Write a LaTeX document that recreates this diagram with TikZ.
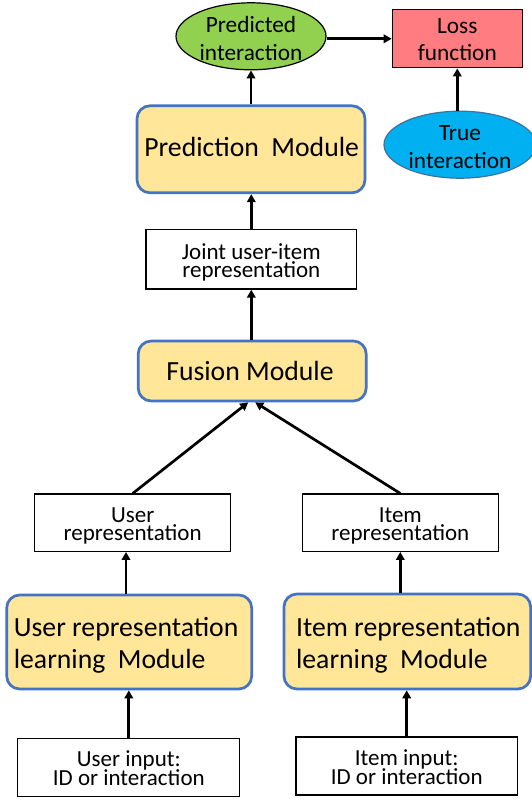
\documentclass[tikz,border=0pt]{standalone}
\usepackage{fontspec}
\setmainfont{Carlito}
\usetikzlibrary{shapes.geometric,arrows.meta}
\definecolor{modfill}{HTML}{FFE699}
\definecolor{modline}{HTML}{4472C4}
\definecolor{predfill}{HTML}{92D050}
\definecolor{lossfill}{HTML}{FF7C80}
\definecolor{truefill}{HTML}{00B0F0}
\definecolor{trueline}{HTML}{41719C}
\begin{document}
\begin{tikzpicture}[x=1pt,y=-1pt,
  module/.style={draw=modline, fill=modfill, line width=2.7pt, rounded corners=13pt, inner sep=0pt},
  plainbox/.style={draw=black, fill=white, line width=1.2pt, inner sep=0pt},
  predell/.style={ellipse, draw=black, fill=predfill, line width=1.2pt, inner sep=0pt, minimum width=150pt, minimum height=67pt},
  trueell/.style={ellipse, draw=trueline, fill=truefill, line width=1.2pt, inner sep=0pt, minimum width=152pt, minimum height=67pt},
  lossbox/.style={draw=black, fill=lossfill, line width=1.3pt, inner sep=0pt, minimum width=130pt, minimum height=58pt},
  smalltxt/.style={inner sep=0pt, align=center, font={\fontsize{23}{18.2}\selectfont\lineskiplimit=-100pt}},
  midtxt/.style={inner sep=0pt, align=center, font={\fontsize{23.3}{27.5}\selectfont\lineskiplimit=-100pt}},
  modtxt/.style={inner sep=0pt, align=left, font={\fontsize{27.7}{32.7}\selectfont\lineskiplimit=-100pt}},
  arr/.style={line width=2.7pt, -{Triangle[length=8pt,width=8.5pt]}}
]
\path[use as bounding box, fill=white] (0,0) rectangle (531,800);

% top row
\node[predell] (pred) at (251,36.3) {};
\node[midtxt] (pred-t) at ([yshift=-2.2pt]pred.center) {Predicted\\interaction};
\node[lossbox] (loss) at (457.3,38.8) {};
\node[midtxt] (loss-t) at ([yshift=-1pt]loss.center) {Loss\\function};
\node[trueell] (tr) at (460,144.7) {};
\node[midtxt] (tr-t) at ([yshift=-2.4pt]tr.center) {True\\interaction};

% prediction module
\node[module, minimum width=228pt, minimum height=87pt] (pm) at (251,149.3) {};
\node[modtxt] (pm-t) at ([xshift=0.7pt,yshift=2.7pt]pm.center) {Prediction\ \ Module};

% joint representation
\node[plainbox, minimum width=210.7pt, minimum height=59.7pt] (jt) at (251.3,259.2) {};
\node[smalltxt] (jt-t) at ([yshift=-3pt]jt.center) {Joint user-item\\representation};

% fusion module
\node[module, minimum width=228pt, minimum height=60pt] (fm) at (252.2,371) {};
\node[modtxt] (fm-t) at ([xshift=-2.2pt]fm.center) {Fusion Module};

% representations
\node[plainbox, minimum width=196pt, minimum height=57.3pt] (ur) at (132.7,522.7) {};
\node[smalltxt] (ur-t) at ([yshift=-3.2pt]ur.center) {User\\representation};
\node[plainbox, minimum width=196pt, minimum height=57.3pt] (ir) at (400.3,522.7) {};
\node[smalltxt] (ir-t) at ([yshift=-3.2pt]ir.center) {Item\\representation};

% learning modules
\node[module, minimum width=245pt, minimum height=94pt] (um) at (129.2,642) {};
\node[modtxt, anchor=west] (um-t) at ([xshift=8.3pt,yshift=-3.3pt]um.west) {User representation\\learning\ \ Module};
\node[module, minimum width=246.7pt, minimum height=95pt] (im) at (407.3,641.5) {};
\node[modtxt, anchor=west] (im-t) at ([xshift=13.3pt,yshift=-3.8pt]im.west) {Item representation\\learning\ \ Module};

% inputs
\node[plainbox, minimum width=222pt, minimum height=58pt] (ui) at (128.8,767.7) {};
\node[smalltxt] (ui-t) at ([yshift=-0.5pt]ui.center) {User input:\\ID or interaction};
\node[plainbox, minimum width=221.3pt, minimum height=58pt] (ii) at (406.7,766) {};
\node[smalltxt] (ii-t) at ([yshift=-1.2pt]ii.center) {Item input:\\ID or interaction};

% helper coordinates
\coordinate (ua) at ([xshift=-3.2pt]um.north);
\coordinate (fl) at ([xshift=-4pt]fm.south);
\coordinate (fr) at ([xshift=3pt]fm.south);

% connectors
\draw[arr] (pm.north) -- (pred.south);
\draw[arr] (pred.east |- loss.west) -- (loss.west);
\draw[arr] (loss.south |- tr.north) -- (loss.south);
\draw[arr] (jt.north) -- (jt.north |- pm.south);
\draw[arr] (jt.south |- fm.north) -- (jt.south);
\draw[arr] (ur.north) -- (fl);
\draw[arr] (ir.north) -- (fr);
\draw[arr] (ua) -- (ua |- ur.south);
\draw[arr] (ir.south |- im.north) -- (ir.south);
\draw[arr] (ui.north) -- (ui.north |- um.south);
\draw[arr] (ii.north) -- (ii.north |- im.south);
\end{tikzpicture}
\end{document}
